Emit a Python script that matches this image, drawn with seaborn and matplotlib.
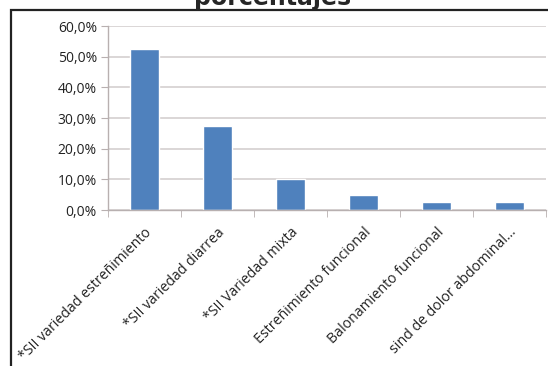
import matplotlib
matplotlib.use("Agg")
import matplotlib.pyplot as plt
import matplotlib.patches as mpatches
import matplotlib.transforms as mtransforms
from matplotlib.ticker import FuncFormatter, FixedLocator
import seaborn as sns
import pandas as pd

categories = ["*SII variedad estreñimiento", "*SII variedad diarrea", "*SII Variedad mixta",
              "Estreñimiento funcional", "Balonamiento funcional", "sind de dolor abdominal..."]
values = [0.525, 0.275, 0.10, 0.05, 0.025, 0.025]
title = "porcentajes"

sns.set_style("white")
plt.rcParams['font.family'] = ['Open Sans', 'DejaVu Sans']

df = pd.DataFrame({"cat": categories, "val": values})

fig = plt.figure(figsize=(5.48, 3.66), dpi=100)
ax = fig.add_axes([108/548, 1-210/366, (546-108)/548, (210-26)/366])

sns.barplot(data=df, x="cat", y="val", color="#4f81bd", width=0.4, ax=ax, saturation=1)

ax.set_ylim(0, 0.6)
ax.set_xlim(-0.5, len(categories)-0.5)
ax.set_yticks([0, 0.1, 0.2, 0.3, 0.4, 0.5, 0.6])
ax.yaxis.set_major_formatter(FuncFormatter(lambda v, p: f"{v*100:.1f}%".replace(".", ",")))
ax.grid(axis="y", color="#d4d0d0", linewidth=1.2)
ax.set_axisbelow(True)
for s in ["top", "right"]:
    ax.spines[s].set_visible(False)
for s in ["left", "bottom"]:
    ax.spines[s].set_color("#b8b0b0")
    ax.spines[s].set_linewidth(1.0)
ax.tick_params(axis="y", which="major", left=True, length=5, color="#b8b0b0", labelsize=10, pad=3, labelcolor="#222222")
ax.set_xlabel("")
ax.set_ylabel("")

ax.set_xticks(range(len(categories)))
ax.set_xticklabels(categories, rotation=45, ha="right", rotation_mode="anchor", fontsize=10.2, color="#222222")
ax.tick_params(axis="x", which="major", length=0, pad=6)
ax.xaxis.set_minor_locator(FixedLocator([i - 0.5 for i in range(len(categories)+1)]))
ax.tick_params(axis="x", which="minor", bottom=True, length=5, color="#b8b0b0")
offset = mtransforms.ScaledTranslation(5/100, -12/100, fig.dpi_scale_trans)
for lbl in ax.get_xticklabels():
    lbl.set_va("center")
    lbl.set_transform(lbl.get_transform() + offset)

fig.text(0.497, 1-5/366, title, ha="center", va="baseline", fontsize=17, fontweight="bold",
         family=["DejaVu Sans"])

frame = mpatches.Rectangle((11/548, -0.01), 1.0, 1-10/366+0.01, transform=fig.transFigure,
                           fill=False, edgecolor="#222222", linewidth=1.6, clip_on=False)
fig.add_artist(frame)

fig.savefig("out.png", dpi=100)
